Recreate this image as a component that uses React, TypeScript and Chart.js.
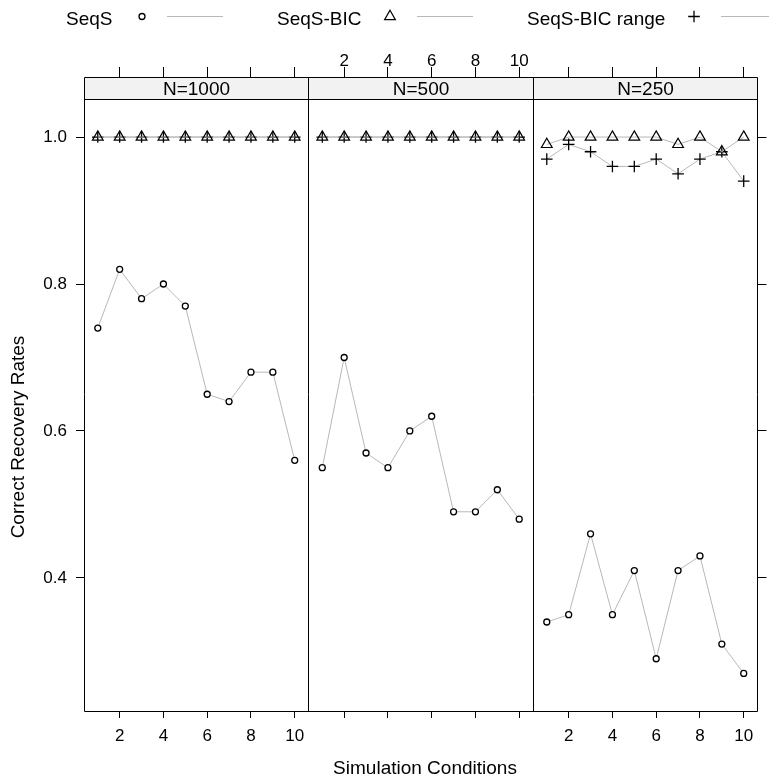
import React, { useEffect, useRef } from 'react';
import { Chart, registerables } from 'chart.js';

Chart.register(...registerables);

// ---------------- data ----------------
const PANEL_LABELS = ['N=1000', 'N=500', 'N=250'];
const CONDITIONS = [1, 2, 3, 4, 5, 6, 7, 8, 9, 10];
const X_TICKS = [2, 4, 6, 8, 10];
const Y_TICKS = [0.4, 0.6, 0.8, 1.0];
const SERIES_NAMES = ['SeqS', 'SeqS-BIC', 'SeqS-BIC range'];
const X_TITLE = 'Simulation Conditions';
const Y_TITLE = 'Correct Recovery Rates';

const seqS_N1000 = [0.74, 0.82, 0.78, 0.80, 0.77, 0.65, 0.64, 0.68, 0.68, 0.56];
const seqS_N500 = [0.55, 0.70, 0.57, 0.55, 0.60, 0.62, 0.49, 0.49, 0.52, 0.48];
const seqS_N250 = [0.34, 0.35, 0.46, 0.35, 0.41, 0.29, 0.41, 0.43, 0.31, 0.27];

const seqSBIC_N1000 = [1.0, 1.0, 1.0, 1.0, 1.0, 1.0, 1.0, 1.0, 1.0, 1.0];
const seqSBIC_N500 = [1.0, 1.0, 1.0, 1.0, 1.0, 1.0, 1.0, 1.0, 1.0, 1.0];
const seqSBIC_N250 = [0.99, 1.0, 1.0, 1.0, 1.0, 1.0, 0.99, 1.0, 0.98, 1.0];

const seqSBICrange_N1000 = [1.0, 1.0, 1.0, 1.0, 1.0, 1.0, 1.0, 1.0, 1.0, 1.0];
const seqSBICrange_N500 = [1.0, 1.0, 1.0, 1.0, 1.0, 1.0, 1.0, 1.0, 1.0, 1.0];
const seqSBICrange_N250 = [0.97, 0.99, 0.98, 0.96, 0.96, 0.97, 0.95, 0.97, 0.98, 0.94];

// panel -> [SeqS, SeqS-BIC, SeqS-BIC range]
const PANEL_SERIES = [
  [seqS_N1000, seqSBIC_N1000, seqSBICrange_N1000],
  [seqS_N500, seqSBIC_N500, seqSBICrange_N500],
  [seqS_N250, seqSBIC_N250, seqSBICrange_N250],
];

// ---------------- layout / style ----------------
const W = 769;
const H = 780;
const PANEL_LEFT = 84;
const PANEL_RIGHT = 757.5;
const STRIP_TOP = 77;
const PANEL_TOP = 99.5;
const PANEL_BOTTOM = 711;
const FONT = "'Liberation Sans', Arial, Helvetica, sans-serif";
const TICK_FONT = { family: FONT, size: 17, lineHeight: 1 };
const LINE_COLOR = '#b8b8b8';
const STRIP_FILL = '#f2f2f2';

const POINT_STYLES = [
  { pointStyle: 'circle', radius: 3, bg: '#ffffff', bw: 1.3 },
  { pointStyle: 'triangle', radius: 6.2, bg: 'rgba(0,0,0,0)', bw: 1.2 },
  { pointStyle: 'cross', radius: 5.8, bg: 'rgba(0,0,0,0)', bw: 1.3 },
];

// scale ranges (lattice-like 7% padding)
const X_LO = Math.min(...CONDITIONS);
const X_HI = Math.max(...CONDITIONS);
const X_PAD = 0.07 * (X_HI - X_LO);
const X_MIN = X_LO - X_PAD;
const PANEL_SPAN = X_HI + X_PAD - X_MIN;
const ALL_Y = PANEL_SERIES.flat(2);
const Y_LO = Math.min(...ALL_Y);
const Y_HI = Math.max(...ALL_Y);
const Y_PAD = 0.07 * (Y_HI - Y_LO);
const Y_MIN = Y_LO - Y_PAD;
const Y_PANEL_MAX = Y_HI + Y_PAD;
const Y_AXIS_MAX =
  Y_PANEL_MAX + ((PANEL_TOP - STRIP_TOP) * (Y_PANEL_MAX - Y_MIN)) / (PANEL_BOTTOM - PANEL_TOP);

const TICK_POSITIONS = PANEL_LABELS.flatMap((_, k) => X_TICKS.map((t) => t + k * PANEL_SPAN));

const crisp = (v: number) => Math.round(v - 0.5) + 0.5;

const latticePlugin = {
  id: 'latticeDecor',
  afterDatasetsDraw(chart: any) {
    const { ctx, chartArea } = chart;
    const xs = chart.scales.x;
    const ys = chart.scales.y;
    const top = crisp(ys.getPixelForValue(Y_AXIS_MAX));
    const stripBottom = crisp(ys.getPixelForValue(Y_PANEL_MAX));
    const bottom = crisp(chartArea.bottom);
    const bounds = [0, 1, 2, 3].map((k) => crisp(xs.getPixelForValue(X_MIN + k * PANEL_SPAN)));
    ctx.save();
    for (let k = 0; k < 3; k++) {
      ctx.fillStyle = STRIP_FILL;
      ctx.fillRect(bounds[k], top, bounds[k + 1] - bounds[k], stripBottom - top);
    }
    ctx.strokeStyle = '#000';
    ctx.lineWidth = 1;
    ctx.beginPath();
    ctx.rect(bounds[0], top, bounds[3] - bounds[0], bottom - top);
    ctx.moveTo(bounds[0], stripBottom);
    ctx.lineTo(bounds[3], stripBottom);
    for (let k = 1; k < 3; k++) {
      ctx.moveTo(bounds[k], top);
      ctx.lineTo(bounds[k], bottom);
    }
    ctx.stroke();
    ctx.fillStyle = '#000';
    ctx.font = `19px ${FONT}`;
    ctx.textAlign = 'center';
    ctx.textBaseline = 'middle';
    for (let k = 0; k < 3; k++) {
      ctx.fillText(PANEL_LABELS[k], (bounds[k] + bounds[k + 1]) / 2, (top + stripBottom) / 2 + 1);
    }
    ctx.restore();
  },
  afterDraw(chart: any) {
    const { ctx } = chart;
    ctx.save();
    ctx.fillStyle = '#000';
    ctx.font = `19px ${FONT}`;
    ctx.textAlign = 'center';
    ctx.textBaseline = 'middle';
    ctx.fillText(X_TITLE, 425, 769);
    ctx.save();
    ctx.translate(19, 437);
    ctx.rotate(-Math.PI / 2);
    ctx.fillText(Y_TITLE, 0, 0);
    ctx.restore();

    const cols = [
      { text: 66, sym: 142, l0: 167, l1: 223 },
      { text: 277, sym: 390, l0: 417, l1: 473 },
      { text: 527, sym: 694, l0: 721, l1: 777 },
    ];
    ctx.textAlign = 'left';
    for (let i = 0; i < 3; i++) {
      const c = cols[i];
      ctx.fillStyle = '#000';
      ctx.fillText(SERIES_NAMES[i], c.text, 20);
      ctx.strokeStyle = LINE_COLOR;
      ctx.lineWidth = 1;
      ctx.beginPath();
      ctx.moveTo(c.l0, 16.5);
      ctx.lineTo(c.l1, 16.5);
      ctx.stroke();
      ctx.strokeStyle = '#000';
      ctx.lineWidth = POINT_STYLES[i].bw;
      ctx.beginPath();
      const r = POINT_STYLES[i].radius;
      const y = 16.5;
      if (i === 0) {
        ctx.arc(c.sym, y, r, 0, Math.PI * 2);
      } else if (i === 1) {
        ctx.moveTo(c.sym, y - r);
        ctx.lineTo(c.sym + (r * Math.sqrt(3)) / 2, y + r / 2);
        ctx.lineTo(c.sym - (r * Math.sqrt(3)) / 2, y + r / 2);
        ctx.closePath();
      } else {
        ctx.moveTo(c.sym - r, y);
        ctx.lineTo(c.sym + r, y);
        ctx.moveTo(c.sym, y - r);
        ctx.lineTo(c.sym, y + r);
      }
      ctx.stroke();
    }
    ctx.restore();
  },
};

function buildDatasets() {
  const ds: any[] = [];
  PANEL_SERIES.forEach((seriesList, k) => {
    seriesList.forEach((values, s) => {
      const st = POINT_STYLES[s];
      ds.push({
        label: `${SERIES_NAMES[s]} ${PANEL_LABELS[k]}`,
        data: values.map((v, i) => ({ x: CONDITIONS[i] + k * PANEL_SPAN, y: v })),
        borderColor: LINE_COLOR,
        borderWidth: 1,
        pointStyle: st.pointStyle,
        pointRadius: st.radius,
        pointBorderColor: '#000',
        pointBackgroundColor: st.bg,
        pointBorderWidth: st.bw,
        fill: false,
        tension: 0,
        xAxisID: 'x',
        yAxisID: 'y',
      });
    });
  });
  return ds;
}

export default function App() {
  const ref = useRef<HTMLCanvasElement>(null);
  useEffect(() => {
    const canvas = ref.current;
    if (!canvas) return;
    const setTicks = (vals: number[]) => (s: any) => {
      s.ticks = vals.map((v) => ({ value: v }));
    };
    const chart = new Chart(canvas, {
      type: 'line',
      data: { datasets: buildDatasets() },
      options: {
        responsive: false,
        maintainAspectRatio: false,
        devicePixelRatio: 1,
        animation: false,
        events: [],
        layout: { padding: 0 },
        plugins: { legend: { display: false }, tooltip: { enabled: false }, title: { display: false } },
        scales: {
          x: {
            type: 'linear',
            position: 'bottom',
            min: X_MIN,
            max: X_MIN + 3 * PANEL_SPAN,
            afterBuildTicks: setTicks(TICK_POSITIONS),
            afterFit: (s: any) => {
              s.height = H - PANEL_BOTTOM;
            },
            ticks: {
              autoSkip: false,
              maxRotation: 0,
              minRotation: 0,
              padding: 10,
              color: '#000',
              font: TICK_FONT,
              callback: (_v: any, i: number) => {
                const panel = Math.floor(i / X_TICKS.length);
                return panel === 0 || panel === 2 ? String(X_TICKS[i % X_TICKS.length]) : '';
              },
            },
            grid: { drawOnChartArea: false, drawTicks: true, tickLength: 7, color: '#000', lineWidth: 1 },
            border: { display: false },
          },
          x2: {
            type: 'linear',
            position: 'top',
            min: X_MIN,
            max: X_MIN + 3 * PANEL_SPAN,
            afterBuildTicks: setTicks(TICK_POSITIONS),
            afterFit: (s: any) => {
              s.height = STRIP_TOP;
            },
            ticks: {
              autoSkip: false,
              maxRotation: 0,
              minRotation: 0,
              padding: -3,
              color: '#000',
              font: TICK_FONT,
              callback: (_v: any, i: number) => {
                const panel = Math.floor(i / X_TICKS.length);
                return panel === 1 ? String(X_TICKS[i % X_TICKS.length]) : '';
              },
            },
            grid: { drawOnChartArea: false, drawTicks: true, tickLength: 10, color: '#000', lineWidth: 1 },
            border: { display: false },
          },
          y: {
            type: 'linear',
            position: 'left',
            min: Y_MIN,
            max: Y_AXIS_MAX,
            afterBuildTicks: setTicks(Y_TICKS),
            afterFit: (s: any) => {
              s.width = PANEL_LEFT;
            },
            ticks: {
              padding: 9,
              color: '#000',
              font: TICK_FONT,
              callback: (v: any) => Number(v).toFixed(1),
            },
            grid: { drawOnChartArea: false, drawTicks: true, tickLength: 8, color: '#000', lineWidth: 1 },
            border: { display: false },
          },
          y2: {
            type: 'linear',
            position: 'right',
            min: Y_MIN,
            max: Y_AXIS_MAX,
            afterBuildTicks: setTicks(Y_TICKS),
            afterFit: (s: any) => {
              s.width = W - PANEL_RIGHT;
            },
            ticks: { padding: 0, color: '#000', font: TICK_FONT, callback: () => '' },
            grid: { drawOnChartArea: false, drawTicks: true, tickLength: 9, color: '#000', lineWidth: 1 },
            border: { display: false },
          },
        },
      } as any,
      plugins: [latticePlugin],
    });
    return () => chart.destroy();
  }, []);
  return (
    <div style={{ position: 'absolute', left: 0, top: 0, width: W, height: H, background: '#fff' }}>
      <canvas ref={ref} width={W} height={H} style={{ display: 'block', width: W, height: H }} />
    </div>
  );
}
